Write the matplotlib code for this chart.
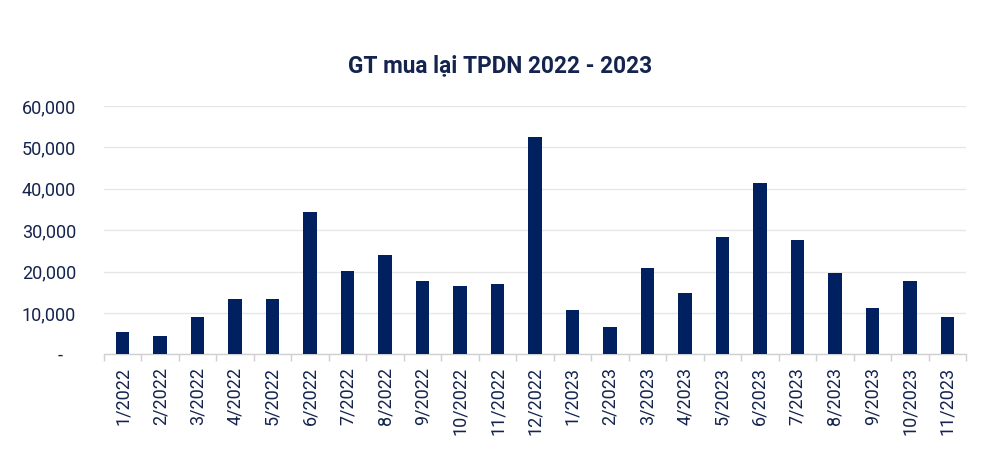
import matplotlib
matplotlib.use("Agg")
import matplotlib.pyplot as plt
import numpy as np
from matplotlib.ticker import FuncFormatter, FixedLocator

plt.rcParams['font.family'] = ['Roboto', 'DejaVu Sans']

categories = ["1/2022", "2/2022", "3/2022", "4/2022", "5/2022", "6/2022", "7/2022",
              "8/2022", "9/2022", "10/2022", "11/2022", "12/2022", "1/2023", "2/2023",
              "3/2023", "4/2023", "5/2023", "6/2023", "7/2023", "8/2023", "9/2023",
              "10/2023", "11/2023"]
values = [5400, 4500, 9000, 13400, 13300, 34400, 20200, 24000, 17700, 16400, 16900,
          52600, 10600, 6500, 20900, 14900, 28300, 41300, 27500, 19600, 11100, 17700, 8900]
title = "GT mua lại TPDN 2022 - 2023"

navy = "#002060"
text_col = "#14244f"

fig = plt.figure(figsize=(10, 4.76), dpi=100)
ax = fig.add_axes([0.104, 0.2557, 0.862, 0.5216])

x = np.arange(len(categories))
ax.bar(x, values, width=0.36, color=navy, zorder=3)

ax.set_xlim(-0.5, len(categories) - 0.5)
ax.set_ylim(0, 60000)
ax.set_yticks(np.arange(0, 60001, 10000))
ax.yaxis.set_major_formatter(FuncFormatter(lambda v, p: "-   " if v == 0 else f"{int(v):,}"))
ax.grid(axis='y', color='#e6e6e6', linewidth=1, zorder=0)
ax.tick_params(axis='y', length=0, pad=20, labelsize=13, labelcolor=text_col)

ax.set_xticks(x)
ax.set_xticklabels(categories, rotation=90, fontsize=13, color=text_col)
ax.tick_params(axis='x', which='major', length=0, pad=9)
ax.xaxis.set_minor_locator(FixedLocator(np.arange(-0.5, len(categories), 1)))
ax.tick_params(axis='x', which='minor', length=5, color='#d0d0d0', width=1)

for s in ['top', 'right', 'left']:
    ax.spines[s].set_visible(False)
ax.spines['bottom'].set_color('#d0d0d0')
ax.spines['bottom'].set_linewidth(1)

fig.text(0.5, 1 - 66 / 476, title, ha='center', va='center', fontsize=16.3,
         fontweight='bold', color=text_col)

fig.savefig("out.png", dpi=100, facecolor='white')
